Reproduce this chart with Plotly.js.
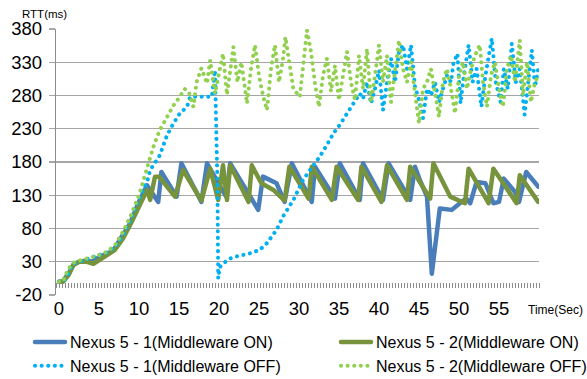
<!DOCTYPE html>
<html>
<head>
<meta charset="utf-8">
<script src="https://cdn.plot.ly/plotly-3.0.1.min.js"></script>
<style>
html,body{margin:0;padding:0;background:#fff;}
#chart{width:587px;height:379px;}
.scatterlayer path.js-line, .legendlines path.js-line { stroke-linecap: round; stroke-linejoin: round; }
</style>
</head>
<body>
<div id="chart"></div>
<script>
// ---- data (time in seconds, RTT in ms) ----
const seriesNames = [
  "Nexus 5 - 1(Middleware ON)",
  "Nexus 5 - 2(Middleware ON)",
  "Nexus 5 - 1(Middleware OFF)",
  "Nexus 5 - 2(Middleware OFF)"
];

const t1On = [0,0.4,1.2,1.8,2.5,3.5,4.2,5,6,6.8,7.8,8.9,9.9,11,12.4,12.8,14.7,15.3,17.8,18.5,20.9,21.4,24.9,25.5,27.2,28.2,29.1,31.6,32,34.5,35.1,37.6,38,40.5,41.2,43.9,44.5,45.1,46,46.6,47.6,49.1,50.3,50.9,51.4,52.2,53.3,54.3,55,55.6,57,57.5,58.4,59.9];
const v1On = [0,0,12,26,30,32,30,37,42,47,67,88,118,145,120,165,128,178,120,178,128,178,108,158,148,120,178,120,173,125,178,123,178,123,178,123,173,153,128,12,110,108,120,125,118,150,148,118,120,155,135,120,165,143];

const t2On = [0,0.5,1.2,1.8,2.5,3.5,4.3,5,6,7,8,9,10,11,11.4,12,12.5,14.5,15.5,17.8,18.9,19.9,20.5,21,21.4,23.7,24.1,25.3,26.8,28.2,28.8,31.2,31.6,34.1,34.7,37.4,37.8,40.3,41,43.5,43.9,46.4,46.8,48,48.9,50.75,51.2,53.7,54.3,57.2,57.6,59.9];
const v2On = [0,0,10,25,30,30,27,33,40,48,65,88,113,138,123,158,158,128,168,122,170,123,175,123,175,120,175,148,138,122,173,125,173,123,173,123,173,120,175,123,173,125,178,150,128,118,170,118,170,118,160,120];

const t1Off = [0,0.5,1,1.5,2,3,4,5,6,7,8,9,10,11,11.4,12.6,13.5,14.3,15.1,16,16.4,17,18,19.1,19.5,19.8,19.9,20.1,20.6,21.4,22.2,23,24,25.1,26,27.2,28,29.3,30.5,31.8,32.6,33.5,34.3,35.1,36,36.7,37.6,38,38.5,39,39.5,40,40.5,41,41.5,42,42.5,43,43.5,44,44.5,45,45.5,46,46.5,47,47.5,48,48.5,49,49.3,49.8,50.2,50.6,51.2,51.7,52.2,52.8,53.3,54.1,54.6,55.2,55.6,56.1,56.6,57.1,57.6,58.2,58.6,59.1,59.5,59.9];
const v1Off = [0,0,8,22,28,32,35,39,44,52,70,95,125,150,168,190,220,238,253,263,278,278,278,278,318,150,5,22,28,35,38,40,43,48,58,78,98,123,153,175,188,206,223,236,253,266,283,275,300,268,290,318,258,300,336,300,345,356,320,356,293,273,246,290,280,300,270,290,310,300,328,343,268,310,356,300,320,263,310,366,300,270,320,290,358,300,320,251,300,348,293,320];

const t2Off = [0,0.5,1,1.5,2,3,4,5,6,7,8,9,10,11,11.8,12.6,13.5,14.3,15.1,15.7,16.2,16.8,17.2,17.8,18.5,18.9,19.5,20,20.5,21,21.4,21.8,22.3,22.8,23.5,24,24.5,25,25.5,26,26.5,27,27.5,28,28.3,28.8,29.3,30.1,30.6,31,31.5,32,32.5,33,33.5,34,34.5,35,35.5,36,36.5,37,37.5,38,38.5,39,39.5,40,40.5,41,41.5,42,42.5,43,43.5,44,44.5,45,45.5,46,46.5,47,47.5,48,48.5,49,49.5,50,50.5,51,51.5,52,52.6,53,53.5,54,54.5,55,55.5,56,56.5,57,57.6,58,58.5,59,59.5,59.9];
const v2Off = [0,0,15,25,30,33,36,40,45,55,75,100,130,173,203,228,248,265,278,290,286,263,300,321,298,333,283,310,343,281,320,353,300,330,268,320,356,310,280,258,320,356,300,335,368,325,290,278,340,378,346,298,263,310,336,286,325,273,310,346,300,273,340,290,350,270,310,356,300,340,270,320,363,320,300,330,280,238,290,300,320,280,248,300,320,290,253,310,330,290,320,340,356,300,263,310,330,290,263,320,340,300,363,280,330,270,300,310];

const xTickVals = [0,5,10,15,20,25,30,35,40,45,50,55];
const xTickText = ["0","5","10","15","20","25","30","35","40","45","50","55"];
const yTickVals = [-20,30,80,130,180,230,280,330,380];
const yTickText = ["-20","30","80","130","180","230","280","330","380"];

// ---- styling ----
const FONT = "Liberation Sans, Arial, sans-serif";
const colors = ["#4A7EBB", "#77933C", "#00B0F0", "#92D050"];

const traces = [
  {x: t1On, y: v1On, name: seriesNames[0], mode: "lines", legend: "legend", line: {color: colors[0], width: 4.5}},
  {x: t2On, y: v2On, name: seriesNames[1], mode: "lines", legend: "legend2", line: {color: colors[1], width: 4.5}},
  {x: t1Off, y: v1Off, name: seriesNames[2], mode: "lines", legend: "legend", line: {color: colors[2], width: 4, dash: "0.1px,6.5px"}},
  {x: t2Off, y: v2Off, name: seriesNames[3], mode: "lines", legend: "legend2", line: {color: colors[3], width: 4, dash: "0.1px,6.5px"}},
  // invisible trace carrying the minor tick axis placed at y = 0
  {x: [0, 60], y: [null, null], xaxis: "x2", mode: "lines", showlegend: false, hoverinfo: "skip"}
];

const legendCommon = {
  orientation: "v", xref: "container", yref: "container",
  xanchor: "left", yanchor: "top", itemwidth: 30, tracegroupgap: 0,
  font: {family: FONT, size: 16, color: "#000"}, bgcolor: "rgba(0,0,0,0)"
};

const layout = {
  width: 587, height: 379,
  margin: {l: 56, r: 48, t: 29, b: 84, autoexpand: false},
  paper_bgcolor: "#ffffff", plot_bgcolor: "#ffffff",
  font: {family: FONT, color: "#000000", size: 16},
  showlegend: true,
  xaxis: {
    range: [-0.375, 60], tickmode: "array", tickvals: xTickVals, ticktext: xTickText,
    showgrid: false, zeroline: false, showline: false, ticks: "",
    tickfont: {family: FONT, size: 18.5, color: "#000"}, ticklabelstandoff: 0, automargin: false
  },
  xaxis2: {
    overlaying: "x", anchor: "free", position: 0.05, side: "bottom",
    range: [-0.375, 60], tick0: 0, dtick: 0.375, ticks: "outside", ticklen: 5,
    tickcolor: "#8c8c8c", tickwidth: 1, showticklabels: false,
    showgrid: false, zeroline: false, showline: false, automargin: false
  },
  yaxis: {
    range: [-20, 380], tickmode: "array", tickvals: yTickVals, ticktext: yTickText,
    showgrid: true, gridcolor: "#a6a6a6", gridwidth: 1.3, zeroline: false,
    showline: true, linecolor: "#8c8c8c", linewidth: 1.3,
    ticks: "outside", ticklen: 6, tickcolor: "#a6a6a6", tickwidth: 1.3,
    tickfont: {family: FONT, size: 18.5, color: "#000"}, ticklabelstandoff: 3, automargin: false
  },
  legend: Object.assign({}, legendCommon, {x: 30 / 587, y: 1 - 325 / 379}),
  legend2: Object.assign({}, legendCommon, {x: 336 / 587, y: 1 - 325 / 379}),
  annotations: [
    {text: "RTT(ms)", xref: "paper", yref: "paper", x: (20 - 56) / 483, y: (295 - 14) / 266,
     xanchor: "left", yanchor: "middle", showarrow: false, font: {family: FONT, size: 11.5, color: "#000"}},
    {text: "Time(Sec)", xref: "paper", yref: "paper", x: (585 - 56) / 483, y: (295 - 310) / 266,
     xanchor: "right", yanchor: "middle", showarrow: false, font: {family: FONT, size: 12, color: "#000"}}
  ]
};

Plotly.newPlot("chart", traces, layout, {staticPlot: true, displayModeBar: false});
</script>
</body>
</html>
